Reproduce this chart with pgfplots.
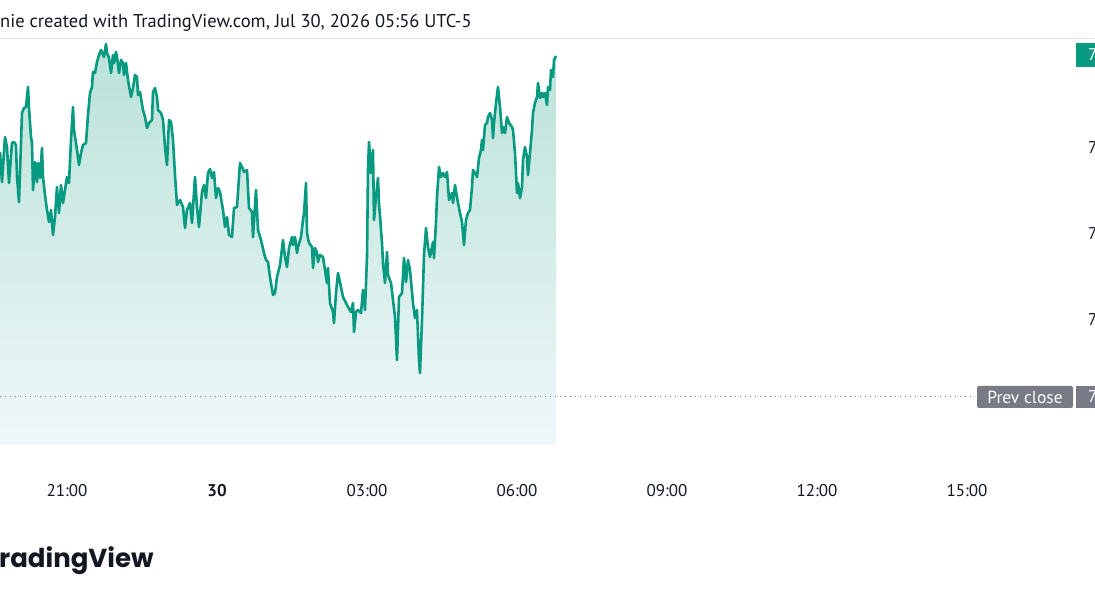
\documentclass[border=0pt]{standalone}
\usepackage{fontspec}
\setmainfont{PT Sans}
\newfontfamily\logofont{Poppins}
\usepackage{pgfplots}
\usepackage{pgfplotstable}
\pgfplotsset{compat=1.18}
\definecolor{tvgreen}{RGB}{8,153,129}
\definecolor{tvgray}{RGB}{120,123,134}
\definecolor{tvtext}{RGB}{19,23,34}
\definecolor{filltop}{RGB}{186,226,216}
\definecolor{fillbot}{RGB}{239,247,250}
\definecolor{gridline}{RGB}{224,227,235}

% px = horizontal pixel position, py = vertical pixel position (from top)
\pgfplotstableread{
px py
0 152
2 182
5 137
7 147
9 183
12 143
14 142
16 145
17 177
19 202
22 113
24 108
26 107
28 87
29 108
31 137
32 143
33 190
35 162
37 182
38 163
40 178
42 148
43 177
45 195
47 210
49 222
51 210
53 235
55 217
57 187
59 213
61 185
63 203
65 190
67 177
69 183
71 140
73 107
74 130
76 143
77 150
79 165
81 153
83 145
86 143
88 115
90 93
92 87
93 72
95 73
97 62
99 55
101 50
103 55
104 57
106 44
107 53
109 58
111 73
113 55
114 63
116 52
117 57
119 73
121 60
123 63
124 75
126 63
128 80
131 97
133 88
135 75
137 77
138 95
140 92
143 110
145 117
147 128
149 123
152 120
153 92
155 88
157 97
158 110
161 113
163 120
165 147
167 165
169 120
171 122
173 140
175 175
177 205
180 200
183 207
185 228
187 210
190 203
192 223
195 177
197 207
199 227
202 192
204 185
206 198
208 173
210 169
212 178
214 172
216 198
218 188
220 192
223 210
225 227
227 217
229 235
232 237
234 208
237 207
240 163
242 167
244 172
247 170
249 208
252 212
253 237
256 190
258 230
261 240
264 253
266 260
268 262
270 277
273 295
275 293
277 277
280 265
283 240
285 257
287 267
289 248
292 237
293 245
295 237
297 253
298 247
301 237
303 220
304 213
306 183
307 233
309 243
312 247
313 268
315 248
317 253
318 262
320 255
323 257
325 270
327 283
328 268
330 303
333 312
334 323
336 293
338 273
341 287
343 297
346 303
348 307
351 312
353 303
354 332
356 312
358 310
361 313
363 290
365 310
367 257
368 170
369 142
371 173
373 150
374 220
376 197
378 178
379 203
382 243
383 263
385 283
387 252
388 275
391 283
393 300
395 317
397 360
399 297
402 293
404 258
406 282
408 260
410 270
413 303
415 318
417 310
419 360
420 373
422 320
424 255
426 228
428 247
430 257
433 242
434 258
436 222
437 197
439 167
441 177
443 173
445 177
447 172
449 200
452 193
453 203
455 185
457 197
458 203
460 213
462 222
464 245
466 220
468 213
470 210
472 187
473 170
475 173
477 177
479 158
481 150
482 140
483 150
485 125
487 123
488 117
490 113
492 120
493 138
494 123
496 103
498 87
500 107
502 133
503 127
505 133
507 117
509 123
512 127
513 130
515 153
517 193
518 183
520 198
522 187
523 160
525 147
527 157
528 175
530 153
532 130
533 113
535 103
537 97
538 83
540 98
542 93
543 97
545 93
547 105
548 87
550 90
551 70
553 77
554 60
556 56
}\pricedata

\begin{document}
\begin{tikzpicture}[x=1pt,y=1pt]
\path[use as bounding box] (0,0) rectangle (1095,600);
\begin{scope}
\clip (0,0) rectangle (1095,600);
% top border
\draw[gridline, line width=0.8pt] (0,562) -- (1095,562);
% title
\node[anchor=base west, inner sep=0pt, text=tvtext, font=\fontsize{18.5}{20}\selectfont] at (0,572)
  {nie created with TradingView.com, Jul 30, 2026 05:56 UTC-5};

\begin{axis}[
  at={(0,155)}, anchor=south west,
  width=1075pt, height=405pt, scale only axis,
  xmin=0, xmax=1075, ymin=0, ymax=405,
  axis line style={draw=none},
  tick style={draw=none},
  ytick=\empty,
  xtick={67,217,367,517,667,817,967},
  xticklabels={21:00,\textbf{30},03:00,06:00,09:00,12:00,15:00},
  xticklabel style={anchor=center, yshift=-46pt, text=tvtext, font=\fontsize{17}{19}\selectfont},
]
\addplot[draw=none, top color=filltop, bottom color=fillbot]
  table[x=px, y expr=445-\thisrow{py}] {\pricedata} \closedcycle;
\addplot[tvgreen, line width=2.6pt, line join=round, no marks]
  table[x=px, y expr=445-\thisrow{py}] {\pricedata};
\end{axis}

% prev close dotted line
\draw[tvgray, line width=1pt, dash pattern=on 1pt off 4pt] (0,203) -- (975,203);
% price scale labels (cut at the right edge)
\fill[tvgreen] (1076,533) rectangle (1097,557);
\node[anchor=base west, inner sep=0pt, text=white, font=\fontsize{17}{19}\selectfont] at (1088,539) {7};
\foreach \yy in {452,366,280} {
  \node[anchor=west, inner sep=0pt, text=tvtext, font=\fontsize{17}{19}\selectfont] at (1088,\yy) {7};
}
\fill[tvgray, rounded corners=2pt] (977,192) rectangle (1073,214);
\node[text=white, inner sep=0pt, font=\fontsize{17.5}{19}\selectfont] at (1025,203) {Prev close};
\fill[tvgray] (1076,192) rectangle (1097,214);
\node[anchor=west, inner sep=0pt, text=white, font=\fontsize{17}{19}\selectfont] at (1088,203) {7};
% logo text
\node[anchor=base west, inner sep=0pt, text=tvtext, font=\logofont\bfseries\fontsize{26}{29}\selectfont] at (-1,33) {radingView};
\end{scope}
\end{tikzpicture}
\end{document}
